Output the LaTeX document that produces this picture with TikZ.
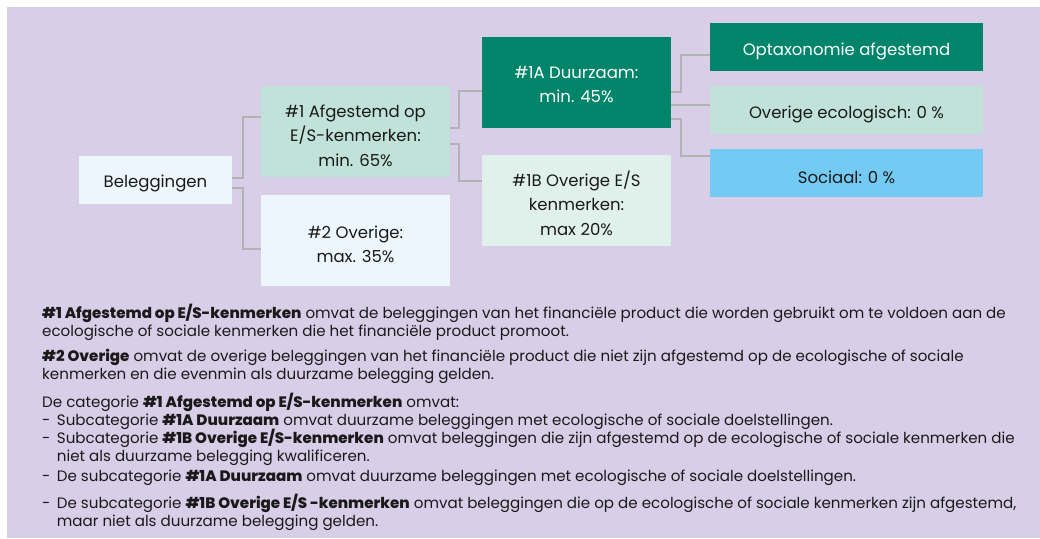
\documentclass[tikz,border=0pt]{standalone}
\usepackage{fontspec}
\setmainfont{Poppins}[BoldFont={Poppins ExtraBold}]
\definecolor{lav}{HTML}{D8CEE8}
\definecolor{paleblue}{HTML}{EDF6FD}
\definecolor{mint}{HTML}{C0E2D8}
\definecolor{palemint}{HTML}{E0F0EB}
\definecolor{dgreen}{HTML}{00856A}
\definecolor{skyb}{HTML}{73CAF2}
\definecolor{conn}{HTML}{B3B3B3}
\definecolor{ink}{HTML}{1A1A1A}
\tikzset{
  box/.style={rectangle, inner sep=0pt},
  btext/.style={inner sep=0pt, align=center, text=ink, yshift=-4pt,
    font=\fontsize{16.5}{24.6}\selectfont},
  wide/.style={box, minimum width=189pt, minimum height=91pt},
  leaf/.style={box, minimum width=273pt, minimum height=48pt},
  link/.style={draw=conn, line width=2pt},
  txt/.style={anchor=base west, inner sep=0pt, text=ink,
    font=\fontsize{15.1}{18}\selectfont},
}
\begin{document}
\begin{tikzpicture}[x=1pt,y=-1pt]
\useasboundingbox (0,0) rectangle (1040,538);
\fill[lav] (7,7) rectangle (1040,538);

\node[box, fill=paleblue, minimum width=153pt, minimum height=48pt,
  label={[btext, yshift=1pt]center:Beleggingen}] (bel) at (155.5,180) {};
\node[wide, fill=mint, label={[btext]center:\#1 Afgestemd op\\E/S-kenmerken:\\min. 65\%}] (a1) at (355.5,131.5) {};
\node[wide, fill=paleblue, label={[btext]center:\#2 Overige:\\max. 35\%}] (a2) at (355.5,240.5) {};
\node[wide, fill=dgreen, label={[btext, text=white, yshift=2pt]center:\#1A Duurzaam:\\min. 45\%}] (a1a) at (576.5,82.5) {};
\node[wide, fill=palemint, label={[btext, yshift=1.5pt]center:\#1B Overige E/S\\kenmerken:\\max 20\%}] (a1b) at (576.5,200.5) {};
\node[leaf, fill=dgreen, label={[btext, text=white]center:Optaxonomie afgestemd}] (opt) at (846.5,47) {};
\node[leaf, fill=mint, label={[btext]center:Overige ecologisch: 0 \%}] (ovr) at (846.5,110) {};
\node[leaf, fill=skyb, label={[btext]center:Sociaal: 0 \%}] (soc) at (846.5,173) {};

\draw[link] ([yshift=2pt]bel.east) -- ++(11,0) |- ([yshift=14.5pt]a1.west);
\draw[link] ([yshift=-8pt]bel.east) -- ++(11,0) |- ([yshift=-8.5pt]a2.west);
\draw[link] ([yshift=3.5pt]a1.east) -- ++(9,0) |- ([yshift=-8.5pt]a1a.west);
\draw[link] ([yshift=-12.5pt]a1.east) -- ++(9,0) |- ([yshift=19.5pt]a1b.west);
\draw[link] ([yshift=-9.5pt]a1a.east) -- ++(10,0) |- ([yshift=-8pt]opt.west);
\draw[link] ([yshift=-22.5pt]a1a.east) -- ([yshift=5pt]ovr.west);
\draw[link] ([yshift=-36.5pt]a1a.east) -- ++(10,0) |- ([yshift=17pt]soc.west);

\node[txt] (l1) at (42,318.3) {\textbf{\#1 Afgestemd op E/S-kenmerken} omvat de beleggingen van het financiële product die worden gebruikt om te voldoen aan de};
\node[txt] (l2) at (42,336.3) {ecologische of sociale kenmerken die het financiële product promoot.};
\node[txt] (l3) at (42,361.7) {\textbf{\#2 Overige} omvat de overige beleggingen van het financiële product die niet zijn afgestemd op de ecologische of sociale};
\node[txt] (l4) at (42,379.7) {kenmerken en die evenmin als duurzame belegging gelden.};
\node[txt] (l5) at (42,407.3) {De categorie \textbf{\#1 Afgestemd op E/S-kenmerken} omvat:};
\node[txt] (l6) at (42,425) {\makebox[14.7pt][l]{-}Subcategorie \textbf{\#1A Duurzaam} omvat duurzame beleggingen met ecologische of sociale doelstellingen.};
\node[txt] (l7) at (42,443.7) {\makebox[14.7pt][l]{-}Subcategorie \textbf{\#1B Overige E/S-kenmerken} omvat beleggingen die zijn afgestemd op de ecologische of sociale kenmerken die};
\node[txt] (l8) at (56.7,461.7) {niet als duurzame belegging kwalificeren.};
\node[txt] (l9) at (42,481) {\makebox[14.7pt][l]{-}De subcategorie \textbf{\#1A Duurzaam} omvat duurzame beleggingen met ecologische of sociale doelstellingen.};
\node[txt] (l10) at (42,508.3) {\makebox[14.7pt][l]{-}De subcategorie \textbf{\#1B Overige E/S -kenmerken} omvat beleggingen die op de ecologische of sociale kenmerken zijn afgestemd,};
\node[txt] (l11) at (56.7,526.7) {maar niet als duurzame belegging gelden.};
\end{tikzpicture}
\end{document}
